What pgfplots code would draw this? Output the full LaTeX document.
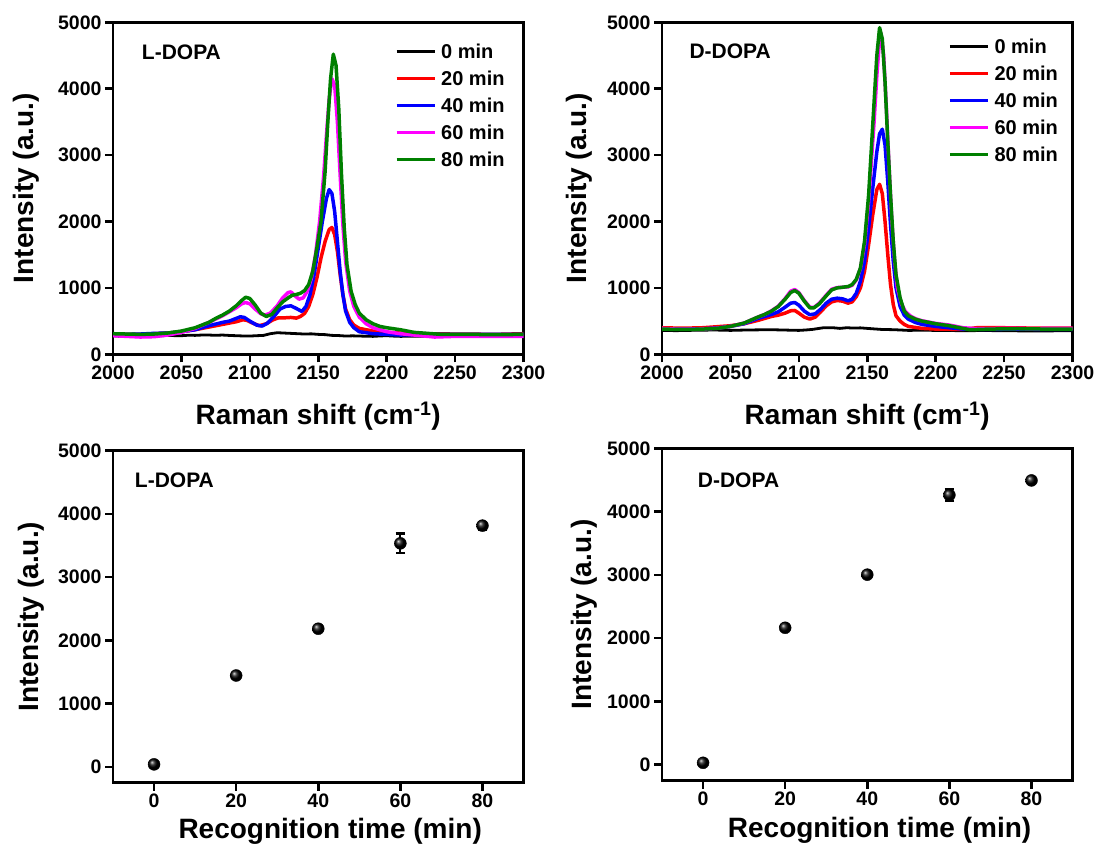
\documentclass[border=0pt]{standalone}
\usepackage{fontspec}
\setmainfont{Liberation Sans}
\usepackage{pgfplots}
\pgfplotsset{compat=1.18}
\definecolor{cgreen}{RGB}{0,128,0}
\definecolor{cmag}{RGB}{255,0,255}
\begin{document}
\begin{tikzpicture}
\pgfplotsset{
  base/.style={
    scale only axis,
    anchor=south west,
    axis line style={line width=2.7pt},
    every tick/.style={line width=2.5pt, black},
    major tick length=8pt,
    tick align=outside,
    tick pos=left,
    /pgf/number format/assume math mode=true,
    /pgf/number format/set thousands separator={},
    tick label style={font=\fontsize{19.5}{19.5}\selectfont\bfseries},
    label style={font=\fontsize{28}{28}\selectfont\bfseries},
    ymin=0, ymax=5000,
    ytick={0,1000,2000,3000,4000,5000},
  },
  spec/.style={
    base,
    width=410.5pt, height=332pt,
    xmin=2000, xmax=2300,
    xtick={2000,2050,2100,2150,2200,2250,2300},
    xlabel={Raman shift (cm\textsuperscript{-1})},
    ylabel={Intensity (a.u.)},
    x label style={at={(axis description cs:0.5,-0.186)}, anchor=center},
    legend cell align=left,
    legend image code/.code={\draw[##1, line width=3.2pt] (0pt,0pt) -- (38pt,0pt);},
    legend style={draw=none, fill=none, inner sep=0pt, anchor=north west,
      font=\fontsize{20}{20}\selectfont\bfseries,
      nodes={inner sep=0pt}, row sep=11pt, column sep=5pt},
  },
  kin/.style={
    base,
    width=410.5pt, height=332pt,
    xmin=-10, xmax=90, ymin=-250,
    xtick={0,20,40,60,80},
    xlabel={Recognition time (min)},
    ylabel={Intensity (a.u.)},
  },
  sp/.style={line width=3.5pt, line join=round},
}
% ---------- top left: L-DOPA spectra ----------
\begin{axis}[spec, at={(113pt,493.7pt)},
  y label style={at={(axis description cs:-0.212,0.5)}, anchor=center},
  legend style={at={(axis description cs:0.6865,0.936)}}]
\addplot[black, line width=2.8pt] coordinates {
(2000,280)(2005,272)(2010,270)(2015,276)(2020,275)(2025,282)(2030,280)(2035,278)(2040,285)(2045,281)(2050,280)(2055,287)(2060,285)(2065,290)(2070,290)(2075,286)(2080,290)(2085,284)(2090,280)(2095,276)(2100,275)(2105,280)(2110,285)(2115,310)(2120,325)(2125,320)(2130,315)(2135,310)(2140,305)(2145,308)(2150,300)(2155,296)(2160,285)(2165,282)(2170,275)(2175,278)(2180,275)(2185,272)(2190,270)(2195,276)(2200,280)(2205,274)(2210,270)(2220,272)(2230,270)(2240,275)(2250,272)(2260,270)(2270,274)(2280,270)(2290,272)(2300,270)};
\addlegendentry{0 min}
\addplot[red, sp] coordinates {
(2000,300)(2010,300)(2020,300)(2030,310)(2040,320)(2050,340)(2060,370)(2070,410)(2080,450)(2090,490)(2095,520)(2098,510)(2102,470)(2107,430)(2112,460)(2117,520)(2121,550)(2126,550)(2130,555)(2134,545)(2137,570)(2140,615)(2143,720)(2146,900)(2149,1150)(2152,1450)(2155,1700)(2158,1880)(2160,1910)(2162,1800)(2164,1550)(2166,1200)(2168,900)(2170,680)(2173,520)(2176,440)(2180,390)(2190,350)(2200,330)(2220,310)(2250,305)(2280,300)(2300,310)};
\addlegendentry{20 min}
\addplot[blue, sp] coordinates {
(2000,300)(2010,300)(2020,305)(2030,315)(2040,320)(2050,340)(2060,370)(2070,430)(2080,480)(2085,500)(2090,540)(2093,565)(2096,555)(2100,500)(2105,440)(2109,425)(2113,470)(2118,580)(2122,680)(2126,720)(2130,730)(2134,690)(2138,645)(2141,720)(2144,900)(2147,1200)(2150,1600)(2153,2000)(2156,2350)(2158,2480)(2160,2420)(2162,2150)(2164,1700)(2166,1250)(2168,900)(2170,650)(2173,480)(2176,400)(2180,340)(2190,310)(2200,300)(2210,290)(2230,300)(2250,300)(2270,300)(2300,300)};
\addlegendentry{40 min}
\addplot[cmag, sp] coordinates {
(2000,280)(2010,270)(2020,260)(2030,265)(2040,290)(2050,330)(2060,390)(2070,480)(2075,530)(2080,580)(2085,640)(2090,700)(2094,760)(2097,780)(2100,760)(2104,680)(2108,610)(2111,590)(2115,620)(2120,730)(2124,850)(2128,930)(2130,940)(2133,880)(2136,830)(2139,850)(2142,950)(2145,1150)(2148,1500)(2151,2000)(2154,2700)(2156,3300)(2158,3850)(2160,4150)(2162,4050)(2164,3500)(2166,2700)(2168,1950)(2170,1400)(2173,950)(2176,720)(2180,560)(2185,460)(2190,400)(2200,340)(2210,310)(2220,290)(2235,260)(2250,270)(2270,270)(2300,270)};
\addlegendentry{60 min}
\addplot[cgreen, sp] coordinates {
(2000,310)(2010,305)(2020,300)(2030,305)(2040,320)(2050,350)(2060,400)(2070,480)(2075,540)(2080,590)(2085,650)(2090,730)(2094,810)(2097,860)(2100,840)(2104,740)(2108,620)(2112,570)(2116,600)(2120,700)(2124,790)(2128,850)(2131,890)(2134,900)(2137,920)(2140,960)(2143,1050)(2146,1250)(2149,1600)(2152,2000)(2155,2750)(2157,3500)(2159,4150)(2161,4520)(2163,4350)(2165,3700)(2167,2700)(2169,1900)(2171,1350)(2174,950)(2177,750)(2180,620)(2185,520)(2190,460)(2195,420)(2200,400)(2210,370)(2220,330)(2240,300)(2260,300)(2280,295)(2300,300)};
\addlegendentry{80 min}
\node[anchor=west, inner sep=0pt, font=\fontsize{21}{21}\selectfont\bfseries] at (axis cs:2021,4553) {L-DOPA};
\end{axis}
% ---------- top right: D-DOPA spectra ----------
\begin{axis}[spec, at={(662pt,493.7pt)},
  y label style={at={(axis description cs:-0.2016,0.5)}, anchor=center},
  legend style={at={(axis description cs:0.697,0.951)}}]
\addplot[black, line width=2.8pt] coordinates {
(2000,360)(2010,356)(2020,360)(2030,364)(2040,365)(2050,360)(2060,365)(2070,368)(2080,370)(2090,365)(2100,360)(2105,366)(2110,375)(2118,400)(2125,400)(2130,390)(2135,400)(2140,395)(2145,398)(2150,390)(2160,375)(2170,370)(2180,360)(2190,362)(2200,360)(2210,358)(2220,355)(2235,358)(2250,355)(2265,352)(2280,350)(2290,355)(2300,355)};
\addlegendentry{0 min}
\addplot[red, sp] coordinates {
(2000,400)(2010,395)(2020,395)(2030,400)(2040,415)(2050,430)(2060,460)(2070,510)(2080,570)(2085,590)(2090,620)(2094,655)(2097,660)(2100,620)(2104,560)(2108,530)(2112,560)(2116,640)(2120,730)(2124,790)(2128,810)(2132,800)(2136,770)(2139,790)(2142,870)(2145,1000)(2148,1250)(2151,1650)(2154,2100)(2157,2480)(2159,2560)(2161,2420)(2163,2000)(2165,1500)(2167,1050)(2169,750)(2171,580)(2174,500)(2177,450)(2180,420)(2190,390)(2200,380)(2220,375)(2230,400)(2250,400)(2270,395)(2300,395)};
\addlegendentry{20 min}
\addplot[blue, sp] coordinates {
(2000,380)(2010,380)(2020,380)(2030,385)(2040,395)(2050,420)(2060,460)(2070,540)(2080,600)(2085,640)(2090,710)(2094,770)(2097,780)(2100,740)(2104,650)(2108,595)(2112,610)(2116,680)(2120,770)(2124,830)(2128,845)(2132,835)(2136,805)(2139,830)(2142,920)(2145,1100)(2148,1400)(2151,1900)(2154,2500)(2157,3050)(2159,3320)(2161,3390)(2163,3150)(2165,2600)(2167,1950)(2169,1400)(2171,1000)(2174,720)(2177,590)(2180,530)(2185,480)(2190,450)(2200,420)(2210,400)(2220,380)(2240,375)(2260,380)(2280,375)(2300,375)};
\addlegendentry{40 min}
\addplot[cmag, sp] coordinates {
(2000,390)(2010,380)(2020,378)(2030,382)(2040,392)(2050,420)(2060,470)(2070,560)(2075,600)(2080,655)(2085,725)(2090,840)(2094,950)(2097,975)(2100,930)(2104,810)(2108,710)(2111,705)(2115,770)(2120,890)(2124,980)(2128,1005)(2132,1010)(2136,1015)(2139,1040)(2142,1120)(2145,1290)(2148,1650)(2151,2300)(2153,2900)(2155,3500)(2157,4200)(2159,4750)(2160,4840)(2162,4500)(2164,3700)(2166,2800)(2168,2000)(2170,1400)(2172,1000)(2175,760)(2178,640)(2182,570)(2186,530)(2190,505)(2195,485)(2200,465)(2210,440)(2220,400)(2230,385)(2250,390)(2270,388)(2300,390)};
\addlegendentry{60 min}
\addplot[cgreen, sp] coordinates {
(2000,380)(2010,375)(2020,375)(2030,380)(2040,390)(2050,420)(2060,470)(2070,560)(2075,600)(2080,650)(2085,720)(2090,830)(2094,930)(2097,960)(2100,920)(2104,800)(2108,700)(2111,700)(2115,760)(2120,880)(2124,970)(2128,1000)(2132,1010)(2136,1020)(2139,1050)(2142,1130)(2145,1300)(2148,1700)(2151,2400)(2153,3100)(2155,3800)(2157,4500)(2159,4920)(2161,4750)(2163,4100)(2165,3200)(2167,2400)(2169,1700)(2171,1200)(2174,850)(2177,650)(2180,580)(2185,530)(2190,500)(2195,480)(2200,460)(2210,430)(2220,390)(2225,370)(2240,380)(2260,385)(2280,380)(2300,380)};
\addlegendentry{80 min}
\node[anchor=west, inner sep=0pt, font=\fontsize{21}{21}\selectfont\bfseries] at (axis cs:2020,4557) {D-DOPA};
\end{axis}
% ---------- bottom left ----------
\begin{axis}[kin, at={(113pt,65.3pt)},
  y label style={at={(axis description cs:-0.2,0.5)}, anchor=center},
  x label style={at={(axis description cs:0.529,-0.1476)}, anchor=center}]
\addplot[only marks, mark=ball, mark size=6pt, mark options={ball color=black},
  error bars/.cd, y dir=both, y explicit,
  error bar style={line width=2.2pt, black},
  error mark options={rotate=90, mark size=4.8pt, line width=2.2pt, black}]
coordinates {
(0,40) +- (0,20)
(20,1445) +- (0,40)
(40,2185) +- (0,30)
(60,3535) +- (0,155)
(80,3815) +- (0,60)};
\node[anchor=west, inner sep=0pt, font=\fontsize{21}{21}\selectfont\bfseries] at (axis cs:-4.7,4537) {L-DOPA};
\end{axis}
% ---------- bottom right ----------
\begin{axis}[kin, at={(662pt,67.5pt)},
  y label style={at={(axis description cs:-0.19,0.5)}, anchor=center},
  x label style={at={(axis description cs:0.53,-0.149)}, anchor=center}]
\addplot[only marks, mark=ball, mark size=6pt, mark options={ball color=black},
  error bars/.cd, y dir=both, y explicit,
  error bar style={line width=2.2pt, black},
  error mark options={rotate=90, mark size=4.8pt, line width=2.2pt, black}]
coordinates {
(0,30) +- (0,20)
(20,2165) +- (0,35)
(40,3005) +- (0,30)
(60,4265) +- (0,100)
(80,4495) +- (0,45)};
\node[anchor=west, inner sep=0pt, font=\fontsize{21}{21}\selectfont\bfseries] at (axis cs:-1.3,4498) {D-DOPA};
\end{axis}
\pgfresetboundingbox
\path[use as bounding box] (0pt,0pt) rectangle (1099pt,848pt);
\end{tikzpicture}
\end{document}
